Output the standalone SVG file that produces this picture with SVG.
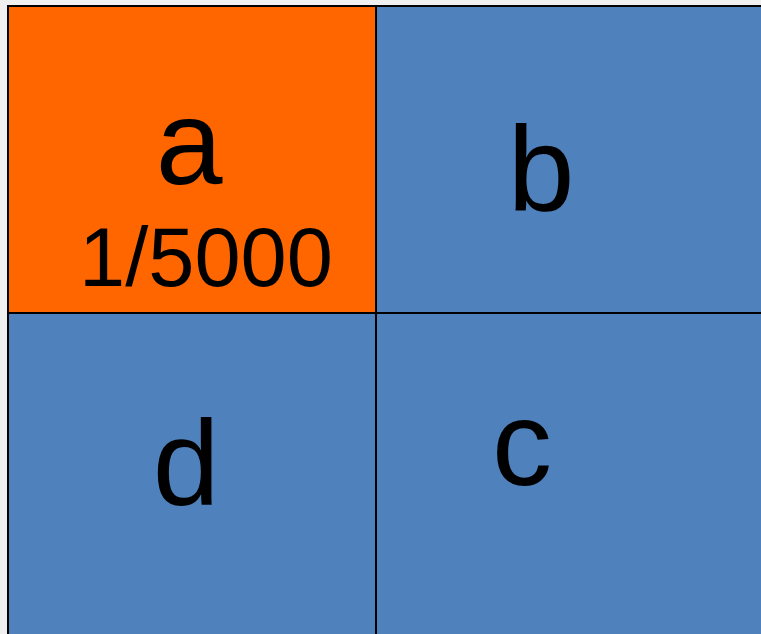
<svg xmlns="http://www.w3.org/2000/svg" width="761" height="634" viewBox="0 0 761 634">
<style>
.cell{stroke:#000;stroke-width:2}
.t{font-family:"Liberation Sans",Arial,sans-serif;fill:#000;text-anchor:middle}
</style>
<rect width="761" height="634" fill="#f0f0f0"/>
<g id="a"><rect class="cell" x="8" y="6" width="368" height="307" fill="#ff6600"/>
<text class="t" x="189" y="184" font-size="120">a</text>
<text class="t" x="206" y="286" font-size="83">1/5000</text></g>
<g id="b"><rect class="cell" x="376" y="6" width="390" height="307" fill="#4f81bd"/>
<text class="t" x="541" y="210" font-size="120">b</text></g>
<g id="d"><rect class="cell" x="8" y="313" width="368" height="330" fill="#4f81bd"/>
<text class="t" x="186" y="504" font-size="120">d</text></g>
<g id="c"><rect class="cell" x="376" y="313" width="390" height="330" fill="#4f81bd"/>
<text class="t" x="522" y="485" font-size="120">c</text></g>
</svg>
